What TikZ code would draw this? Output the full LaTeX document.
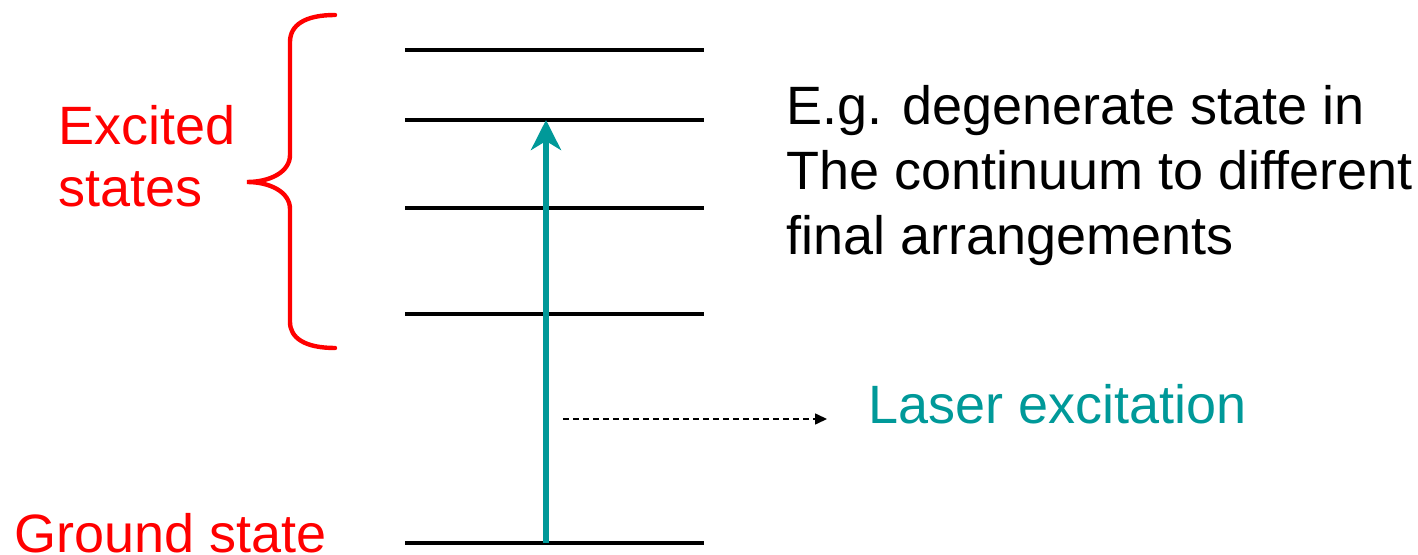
\documentclass[tikz,border=0pt]{standalone}
\usepackage{fontspec}
\setmainfont{Liberation Sans}
\usetikzlibrary{arrows.meta}
\definecolor{exred}{RGB}{255,0,0}
\definecolor{laserteal}{RGB}{0,153,153}

\begin{document}
\begin{tikzpicture}[x=0.5pt, y=-0.5pt,
  level/.style={line width=2pt},
  lbl/.style={inner sep=0pt, anchor=base west, align=left,
    font=\fontsize{27}{31}\selectfont}]
  \useasboundingbox (0,0) rectangle (1418,555);
  % Energy levels
  \foreach \y [count=\i] in {50,120,208,314,543}
    \draw[level] (405,\y) coordinate (l\i w) -- (704,\y) coordinate (l\i e);
  % Laser excitation arrow, ground level up to second level
  \coordinate (gnd) at (546,543);
  \coordinate (exc) at (546,120);
  \draw[laserteal, line width=3pt,
    -{Stealth[length=15pt, width=15pt, inset=4.5pt]}] (gnd) -- (exc);
  % Brace round the excited states
  \draw[exred, line width=2.2pt, line cap=round]
    (335,15) .. controls (305,15) and (290,25) .. (290,42) -- (290,155)
    .. controls (290,172) and (270,182) .. (247,182)
    .. controls (270,182) and (290,192) .. (290,209) -- (290,322)
    .. controls (290,338) and (305,348) .. (335,348);
  % Labels (base anchor sits on the last line)
  \node[lbl, exred] (excited) at (58,207) {Excited\\states};
  \node[lbl, exred] (ground) at (14,552) {Ground state};
  \node[lbl, font=\fontsize{27}{32.5}\selectfont] (note) at (786,255)
    {E.g. degenerate state in\\The continuum to different\\final arrangements};
  \node[lbl, laserteal] (laser) at (868,423) {Laser excitation};
  % Dashed pointer to the laser label
  \coordinate (ptr) at (563,419);
  \draw[line width=0.8pt, dash pattern=on 3pt off 2pt,
    -{Triangle[length=6pt, width=5.5pt]}]
    (ptr) -- ([xshift=-20.5pt]ptr -| laser.west);
\end{tikzpicture}
\end{document}
